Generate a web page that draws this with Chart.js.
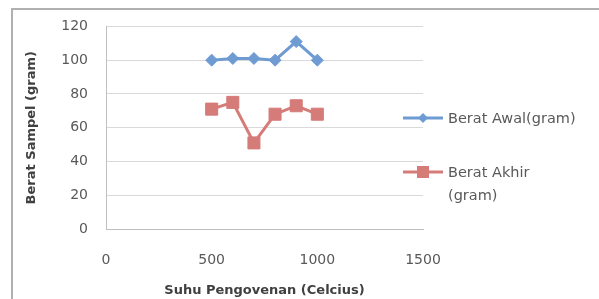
<!DOCTYPE html>
<html>
<head>
<meta charset="utf-8">
<script src="https://cdn.jsdelivr.net/npm/chart.js@4/dist/chart.umd.min.js"></script>
<style>
  html, body { margin: 0; padding: 0; background: #fff; }
  #wrap { position: relative; width: 599px; height: 299px; overflow: hidden; }
  #frame { position: absolute; left: 11px; top: 8px; width: 590px; height: 300px;
           border-left: 2px solid #b0b0b0; border-top: 2px solid #b0b0b0; box-sizing: border-box; pointer-events: none; }
  #legend { position: absolute; left: 403px; top: 0; font-family: "DejaVu Sans", sans-serif;
            font-size: 14.5px; color: #595959; }
  .item { position: absolute; left: 0; white-space: nowrap; }
  .item .mk { position: absolute; left: 0; width: 40px; }
  .item .txt { position: absolute; left: 45px; line-height: 23px; }
</style>
</head>
<body>
<div id="wrap">
  <canvas id="grafico" width="599" height="299"></canvas>
  <div id="frame"></div>
  <div id="legend"></div>
</div>
<script>
// Data
const suhu = [500, 600, 700, 800, 900, 1000];
const beratAwal = [100, 101, 101, 100, 111, 100];
const beratAkhir = [71, 75, 51, 68, 73, 68];
const yTicks = [0, 20, 40, 60, 80, 100, 120];
const xTicks = [0, 500, 1000, 1500];

const biru = '#6f9bd3';
const merah = '#d57b78';

const toPoints = vals => suhu.map((x, i) => ({ x: x, y: vals[i] }));

const ctx = document.getElementById('grafico').getContext('2d');
const chart = new Chart(ctx, {
    type: 'scatter',
    data: {
        datasets: [{
            label: 'Berat Awal(gram)',
            data: toPoints(beratAwal),
            showLine: true,
            borderColor: biru,
            backgroundColor: biru,
            borderWidth: 3,
            pointStyle: 'rectRot',
            pointRadius: 6,
            pointBorderWidth: 1,
            pointHoverRadius: 6
        }, {
            label: 'Berat Akhir\n(gram)',
            data: toPoints(beratAkhir),
            showLine: true,
            borderColor: merah,
            backgroundColor: merah,
            borderWidth: 3,
            pointStyle: 'rect',
            pointRadius: 8.5,
            pointBorderWidth: 1,
            pointHoverRadius: 8.5
        }]
    },
    options: {
        responsive: false,
        animation: false,
        layout: { padding: { left: 0, top: 25, right: 176, bottom: 0 } },
        plugins: {
            legend: { display: false },
            tooltip: { enabled: false }
        },
        scales: {
            x: {
                type: 'linear',
                min: 0, max: 1500,
                afterBuildTicks: s => { s.ticks = xTicks.map(v => ({ value: v })); },
                afterFit: s => { s.height = 70; },
                grid: { display: false, drawTicks: false },
                border: { display: true, color: '#bfbfbf', width: 1 },
                ticks: { color: '#595959', padding: 23, font: { family: 'DejaVu Sans', size: 14 },
                         callback: v => String(v) },
                title: {
                    display: true,
                    text: 'Suhu Pengovenan (Celcius)',
                    color: '#404040',
                    font: { family: 'DejaVu Sans', size: 13, weight: 'bold' },
                    padding: { top: 0, bottom: 1 }
                }
            },
            y: {
                min: 0, max: 120,
                afterBuildTicks: s => { s.ticks = yTicks.map(v => ({ value: v })); },
                afterFit: s => { s.width = 106; },
                grid: { color: '#d9d9d9', drawTicks: false },
                border: { display: true, color: '#bfbfbf', width: 1 },
                ticks: { color: '#595959', padding: 18, font: { family: 'DejaVu Sans', size: 14 },
                         callback: v => String(v) },
                title: {
                    display: true,
                    text: 'Berat Sampel (gram)',
                    color: '#404040',
                    font: { family: 'DejaVu Sans', size: 13, weight: 'bold' },
                    padding: { top: 24, bottom: 0 }
                }
            }
        }
    }
});

// HTML legend built from the datasets
const legendTops = [118, 172];
const legend = document.getElementById('legend');
chart.data.datasets.forEach((ds, i) => {
    const item = document.createElement('div');
    item.className = 'item';
    item.style.top = legendTops[i] + 'px';
    const mk = document.createElement('canvas');
    mk.className = 'mk';
    mk.width = 40; mk.height = 16;
    mk.style.top = '-8px';
    const c = mk.getContext('2d');
    c.strokeStyle = ds.borderColor; c.lineWidth = 3;
    c.beginPath(); c.moveTo(0, 8); c.lineTo(40, 8); c.stroke();
    c.fillStyle = ds.backgroundColor;
    if (ds.pointStyle === 'rect') {
        c.fillRect(14, 2, 12, 12);
    } else {
        c.beginPath(); c.moveTo(20, 3); c.lineTo(25, 8); c.lineTo(20, 13); c.lineTo(15, 8); c.closePath(); c.fill();
    }
    const txt = document.createElement('div');
    txt.className = 'txt';
    txt.style.top = '-11.5px';
    txt.innerHTML = ds.label.split('\n').join('<br>');
    item.appendChild(mk);
    item.appendChild(txt);
    legend.appendChild(item);
});
</script>
</body>
</html>
